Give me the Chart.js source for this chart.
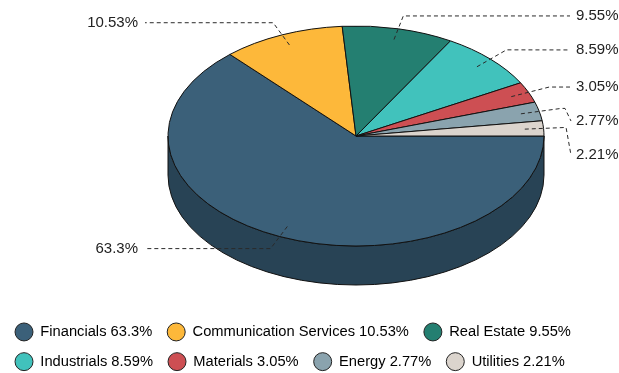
<!DOCTYPE html>
<html>
<head>
<meta charset="utf-8">
<script src="https://cdn.jsdelivr.net/npm/chart.js@4/dist/chart.umd.min.js"></script>
<style>
  html, body { margin: 0; padding: 0; background: #ffffff; }
  #wrap { width: 619px; height: 373px; position: relative; }
</style>
</head>
<body>
<div id="wrap"><canvas id="c"></canvas></div>
<script>
// ---- data ----
const categories = ['Financials', 'Communication Services', 'Real Estate', 'Industrials', 'Materials', 'Energy', 'Utilities'];
const shares = [63.3, 10.53, 9.55, 8.59, 3.05, 2.77, 2.21];
const valueLabels = ['63.3%', '10.53%', '9.55%', '8.59%', '3.05%', '2.77%', '2.21%'];

// ---- style ----
const topColors = ['#3b6079', '#fdb83a', '#247f71', '#41c2bc', '#cd4f53', '#8aa3ae', '#dbd4cd'];
const sideColors = ['#284355', '#b08028', '#19594f', '#2e8883', '#90373a', '#61727a', '#99948f'];
const PIE = { cx: 356, cy: 136, rx: 188, ry: 110, depth: 39 };
const LABEL_FONT = '15px "Liberation Sans", Arial, sans-serif';

function P(a, f) {
  return { x: PIE.cx + PIE.rx * f * Math.cos(a), y: PIE.cy + PIE.ry * f * Math.sin(a) };
}

const threeD = {
  id: 'threeD',
  beforeDatasetsDraw(chart) {
    const ctx = chart.ctx;
    const meta = chart.getDatasetMeta(0);
    // side walls (front half only)
    meta.data.forEach((el, i) => {
      const s = Math.max(el.startAngle, 0), e = Math.min(el.endAngle, Math.PI);
      if (e <= s) return;
      ctx.save();
      ctx.beginPath();
      ctx.ellipse(PIE.cx, PIE.cy, PIE.rx, PIE.ry, 0, s, e, false);
      ctx.lineTo(PIE.cx + PIE.rx * Math.cos(e), PIE.cy + PIE.depth + PIE.ry * Math.sin(e));
      ctx.ellipse(PIE.cx, PIE.cy + PIE.depth, PIE.rx, PIE.ry, 0, e, s, true);
      ctx.closePath();
      ctx.fillStyle = sideColors[i];
      ctx.fill();
      ctx.lineWidth = 1;
      ctx.strokeStyle = '#111';
      ctx.stroke();
      ctx.restore();
    });
    // project the library's circular pie onto the top ellipse
    const el0 = meta.data[0];
    ctx.save();
    ctx.translate(PIE.cx, PIE.cy);
    ctx.scale(PIE.rx / el0.outerRadius, PIE.ry / el0.outerRadius);
    ctx.translate(-el0.x, -el0.y);
    const orig = CanvasRenderingContext2D.prototype.stroke;
    ctx.stroke = function () {
      this.save();
      this.setTransform(1, 0, 0, 1, 0, 0);
      orig.apply(this, arguments);
      this.restore();
    };
  },
  afterDatasetsDraw(chart) {
    const ctx = chart.ctx;
    delete ctx.stroke;
    ctx.restore();
    const meta = chart.getDatasetMeta(0);
    const items = meta.data.map((el, i) => {
      const mid = (el.startAngle + el.endAngle) / 2;
      const inner = P(mid, 0.9), elbow = P(mid, 1.12);
      return { i, inner, elbow, right: Math.cos(mid) >= 0, y: elbow.y };
    });
    const minGap = 34;
    ['right', 'left'].forEach(side => {
      const arr = items.filter(it => (side === 'right') === it.right).sort((a, b) => a.elbow.y - b.elbow.y);
      let prev = -Infinity;
      arr.forEach(it => { it.y = Math.max(it.elbow.y, prev + minGap); prev = it.y; });
    });
    const rightTextX = PIE.cx + PIE.rx + 32, rightLineEnd = rightTextX - 6;
    const leftTextX = PIE.cx - PIE.rx - 30, leftLineEnd = leftTextX + 7;
    ctx.save();
    ctx.font = LABEL_FONT;
    ctx.textBaseline = 'middle';
    items.forEach(it => {
      const shifted = it.y - it.elbow.y > 1;
      ctx.beginPath();
      ctx.setLineDash([4, 3]);
      ctx.lineWidth = 1;
      ctx.strokeStyle = '#2a2a2a';
      ctx.moveTo(it.inner.x, it.inner.y);
      ctx.lineTo(it.elbow.x, it.elbow.y);
      if (it.right) {
        if (shifted) {
          ctx.lineTo(Math.max(it.elbow.x, rightLineEnd - 5), it.elbow.y);
          ctx.lineTo(rightLineEnd + 1, it.y);
        } else {
          ctx.lineTo(rightLineEnd, it.y);
        }
      } else {
        if (shifted) {
          ctx.lineTo(Math.min(it.elbow.x, leftLineEnd + 5), it.elbow.y);
          ctx.lineTo(leftLineEnd - 1, it.y);
        } else {
          ctx.lineTo(leftLineEnd, it.y);
        }
      }
      ctx.stroke();
      ctx.setLineDash([]);
      ctx.fillStyle = '#222';
      ctx.textAlign = it.right ? 'left' : 'right';
      ctx.fillText(valueLabels[it.i], it.right ? rightTextX : leftTextX, it.y);
    });
    ctx.restore();
  }
};

new Chart(document.getElementById('c'), {
  type: 'pie',
  data: {
    labels: categories,
    datasets: [{
      data: shares,
      backgroundColor: topColors,
      borderColor: '#111',
      borderWidth: 1,
      clip: false
    }]
  },
  options: {
    responsive: true,
    maintainAspectRatio: false,
    animation: false,
    events: [],
    rotation: 90,
    layout: { padding: { left: 0, bottom: -6 } },
    plugins: {
      tooltip: { enabled: false },
      legend: {
        position: 'bottom',
        align: 'start',
        labels: {
          usePointStyle: true,
          pointStyle: 'circle',
          pointStyleWidth: 18,
          boxHeight: 12.7,
          padding: 15,
          color: '#555',
          font: { family: '"Liberation Sans", Arial, sans-serif', size: 14.7 },
          generateLabels() {
            return categories.map((c, i) => ({
              text: c + ' ' + valueLabels[i],
              fillStyle: topColors[i],
              strokeStyle: '#222',
              lineWidth: 1,
              pointStyle: 'circle',
              hidden: false,
              index: i,
              datasetIndex: 0
            }));
          }
        }
      }
    }
  },
  plugins: [threeD]
});
</script>
</body>
</html>
